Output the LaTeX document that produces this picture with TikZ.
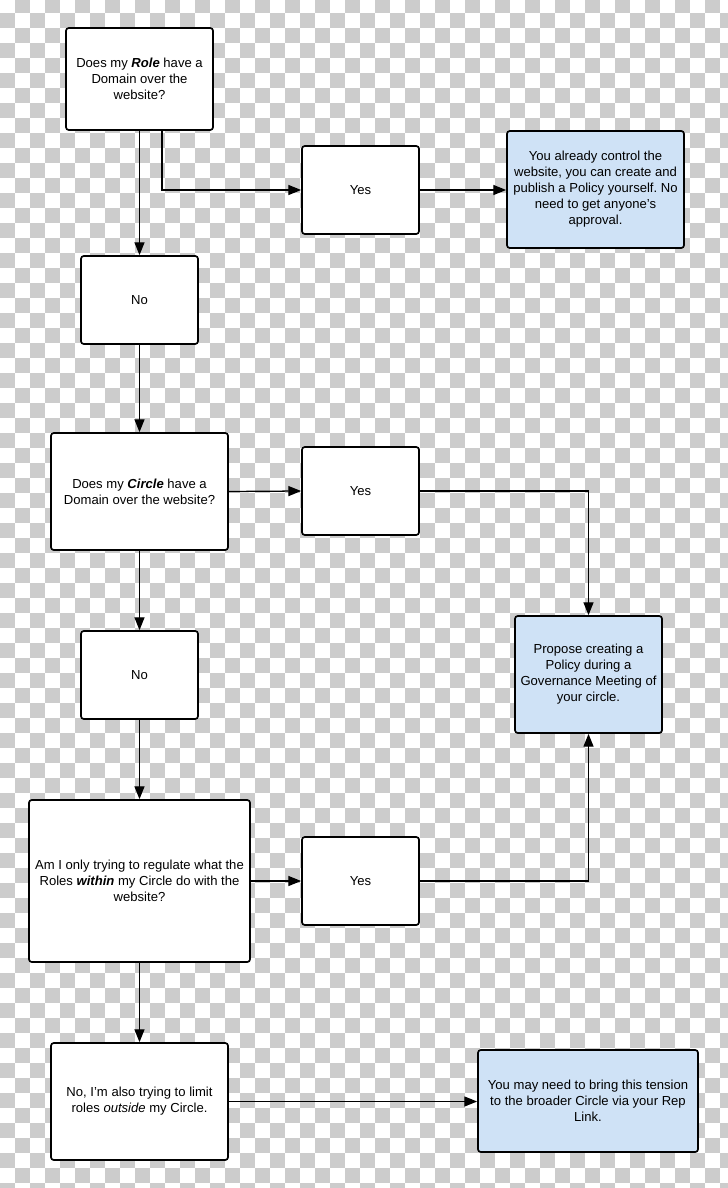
\documentclass[tikz,border=0pt]{standalone}
\usepackage{fontspec}
\setmainfont{Liberation Sans}
\usetikzlibrary{arrows.meta}
\definecolor{checkgray}{RGB}{204,204,204}
\definecolor{outcomeblue}{RGB}{207,226,246}
\frenchspacing
\begin{document}
\begin{tikzpicture}[
  x=0.025cm,y=-0.025cm,
  font=\fontsize{9.3}{11.4}\selectfont,
  qbox/.style={draw, fill=white, line width=1.2pt, rounded corners=2pt, align=center, inner sep=0pt},
  answer/.style={qbox, minimum width=2.925cm, minimum height=2.2cm},
  outcome/.style={qbox, fill=outcomeblue},
  arrow/.style={-{Triangle[length=3.2mm,width=2.5mm]}, line width=0.9pt}
]
\useasboundingbox (0,0) rectangle (728,1188);

% checkered background
\begin{scope}
\clip (0,0) rectangle (728,1188);
\foreach \i in {0,...,48}{
  \foreach \j in {0,...,79}{
    \pgfmathtruncatemacro\odd{mod(\i+\j,2)}
    \ifnum\odd=1
      \fill[checkgray] (15*\i,-2+15*\j) rectangle +(15,15);
    \fi
  }
}
\end{scope}

% questions
\node[qbox, minimum width=3.675cm, minimum height=2.55cm] (role) at (139.5,79)
  {Does my \textbf{\textit{Role}} have a\\Domain over the\\website?};
\node[qbox, minimum width=4.425cm, minimum height=2.925cm] (circ) at (139.5,491.5)
  {Does my \textbf{\textit{Circle}} have a\\Domain over the website?};
\node[qbox, minimum width=5.525cm, minimum height=4.05cm] (within) at (139.5,881)
  {Am I only trying to regulate what the\\Roles \textbf{\textit{within}} my Circle do with the\\website?};

% answers
\node[answer] (yesA) at (360.5,190) {Yes};
\node[answer] (noA) at (139.5,300) {No};
\node[answer] (yesB) at (360.5,491) {Yes};
\node[answer] (noB) at (139.5,675) {No};
\node[answer] (yesC) at (360.5,881) {Yes};
\node[qbox, minimum width=4.425cm, minimum height=2.925cm] (noC) at (139.5,1101.5)
  {No, I'm also trying to limit\\roles \textit{outside} my Circle.};

% outcomes
\node[outcome, minimum width=4.425cm, minimum height=2.925cm] (ownA) at (595.5,189.5)
  {You already control the\\website, you can create and\\publish a Policy yourself. No\\need to get anyone's\\approval.};
\node[outcome, minimum width=3.675cm, minimum height=2.925cm] (propose) at (588.5,674.5)
  {Propose creating a\\Policy during a\\Governance Meeting of\\your circle.};
\node[outcome, minimum width=5.5cm, minimum height=2.55cm] (repA) at (588,1101)
  {You may need to bring this tension\\to the broader Circle via your Rep\\Link.};

% connectors
\coordinate (rolekink) at (162,188);
\draw[arrow] (role.south -| rolekink) |- (yesA.west);
\draw[arrow] (role.south) -- (noA.north);
\draw[arrow] (yesA.east) -- (ownA.west |- yesA.east);
\draw[arrow] (noA.south) -- (circ.north);
\draw[arrow] (circ.east) -- (yesB.west);
\draw[arrow] (yesB.east) -| (propose.north);
\draw[arrow] (circ.south) -- (noB.north);
\draw[arrow] (noB.south) -- (within.north);
\draw[arrow] (within.east) -- (yesC.west);
\draw[arrow] (yesC.east) -| (propose.south);
\draw[arrow] (within.south) -- (noC.north);
\draw[arrow] (noC.east) -- (repA.west |- noC.east);
\end{tikzpicture}
\end{document}
